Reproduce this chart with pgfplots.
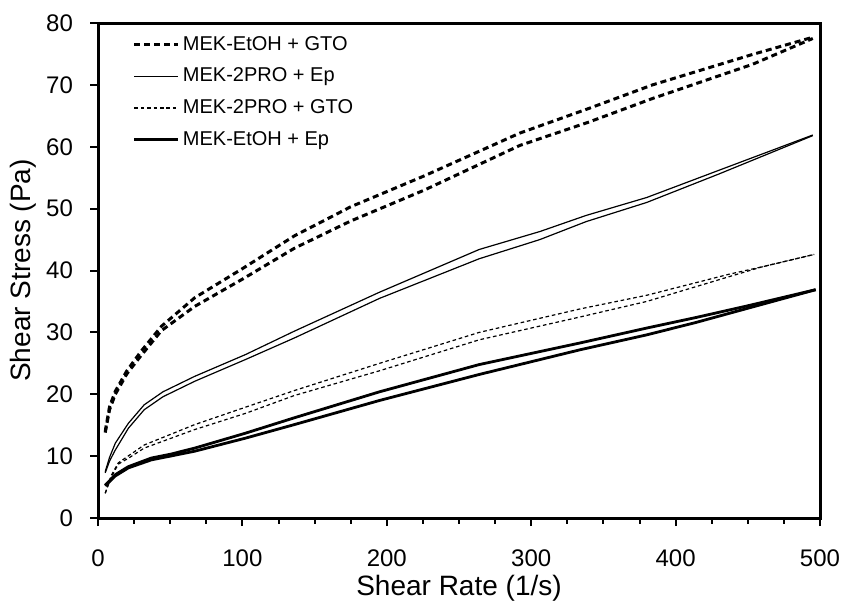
\documentclass[border=0pt]{standalone}
\usepackage{pgfplots}
\pgfplotsset{compat=1.18}
\usepackage{fontspec}
\setmainfont{Liberation Sans}

% hysteresis curves, up and down branches
\pgfplotstableread{
x y
5 14.0
8 18.0
12 20.5
20 23.8
30 27.0
44 31.0
67 35.6
100 40.3
136 45.6
175 50.3
226 55.3
292 62.2
340 66.2
384 70.0
453 74.9
495 77.7
}\etohgtoup
\pgfplotstableread{
x y
5 13.8
8 17.5
12 20.0
20 23.3
30 26.3
44 30.3
67 34.2
100 38.6
136 43.6
175 48.0
226 53.0
292 60.2
340 64.0
384 67.8
453 73.3
495 77.5
}\etohgtodown
\pgfplotstableread{
x y
5 7.5
8 9.8
12 12.1
21 15.3
32 18.3
45 20.4
67 22.9
102 26.4
136 30.2
195 36.5
264 43.4
306 46.3
338 48.9
380 51.8
430 56.2
495 61.9
}\proepup
\pgfplotstableread{
x y
5 7.3
8 9.2
12 11.0
21 14.5
32 17.5
45 19.6
67 22.1
102 25.6
136 29.1
195 35.5
264 41.9
306 45.0
338 47.9
380 51.0
430 55.6
495 61.8
}\proepdown
\pgfplotstableread{
x y
5 4.0
9 6.8
14 8.9
22 10.2
32 11.8
67 15.1
102 17.9
136 20.6
195 25.0
264 30.0
334 33.8
380 36.0
437 39.4
460 40.6
496 42.6
}\progtoup
\pgfplotstableread{
x y
5 4.0
9 6.5
14 8.7
22 9.8
32 11.3
67 14.3
102 16.9
136 19.8
195 23.8
264 28.8
334 32.5
380 35.0
437 39.0
460 40.6
496 42.6
}\progtodown
\pgfplotstableread{
x y
5 5.3
12 7.0
21 8.3
37 9.7
50 10.3
67 11.3
102 13.7
136 16.2
195 20.4
264 24.8
334 28.3
380 30.7
414 32.4
450 34.3
497 36.9
}\etohepup
\pgfplotstableread{
x y
5 5.2
12 6.8
21 8.1
37 9.4
50 10.0
67 10.8
102 12.9
136 15.1
195 19.0
264 23.2
334 27.2
380 29.6
414 31.6
450 33.9
497 36.9
}\etohepdown

\newcommand{\lgd}{\fontsize{10}{12}\selectfont}

\begin{document}
\begin{tikzpicture}
\useasboundingbox (-49pt,-42pt) rectangle (373pt,259pt);
\begin{axis}[
    at={(0,0)}, anchor=south west,
    scale only axis, width=361pt, height=247.5pt,
    xmin=0, xmax=500, ymin=0, ymax=80,
    xtick={0,100,...,500}, ytick={0,10,...,80},
    minor x tick num=3,
    tick pos=left, tick align=outside,
    major tick length=4pt, minor tick length=2.8pt,
    every tick/.style={black, line width=1pt},
    axis line style={line width=1.5pt},
    /pgf/number format/assume math mode=true,
    ticklabel style={font=\fontsize{12}{14}\selectfont},
    xticklabel shift=8.5pt, yticklabel shift=5pt,
    xlabel={Shear Rate (1/s)}, ylabel={Shear Stress (Pa)},
    label style={font=\fontsize{14}{16}\selectfont},
    xlabel style={at={(axis description cs:0.5,-0.1414)}, anchor=center},
    ylabel style={at={(axis description cs:-0.104,0.5)}, anchor=center},
    legend image code/.code={\draw[#1] (0pt,0pt) -- (22pt,0pt);},
    legend style={draw=none, fill=none, at={(0.0395,0.99)}, anchor=north west,
        font=\lgd, row sep=3.3pt,
        nodes={inner sep=1.5pt, text height=7.5pt, text depth=2pt}},
    legend cell align=left,
]
\addplot[black, line width=1.5pt, dash pattern=on 3pt off 2pt] table {\etohgtoup};
\addlegendentry{\lgd MEK-EtOH + GTO}
\addplot[black, line width=1.5pt, dash pattern=on 3pt off 2pt, forget plot] table {\etohgtodown};
\addplot[black, line width=0.6pt] table {\proepup};
\addlegendentry{\lgd MEK-2PRO + Ep}
\addplot[black, line width=0.6pt, forget plot] table {\proepdown};
\addplot[black, line width=0.6pt, dash pattern=on 1.8pt off 1.4pt] table {\progtoup};
\addlegendentry{\lgd MEK-2PRO + GTO}
\addplot[black, line width=0.6pt, dash pattern=on 1.8pt off 1.4pt, forget plot] table {\progtodown};
\addplot[black, line width=1.4pt] table {\etohepup};
\addlegendentry{\lgd MEK-EtOH + Ep}
\addplot[black, line width=1.4pt, forget plot] table {\etohepdown};
\end{axis}
\end{tikzpicture}
\end{document}
